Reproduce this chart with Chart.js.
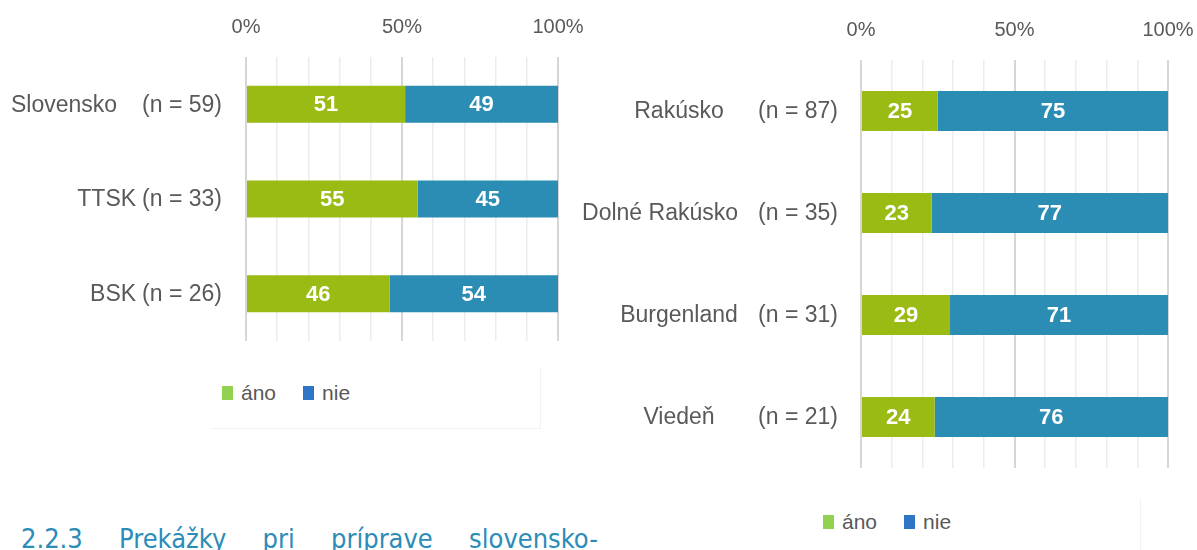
<!DOCTYPE html>
<html>
<head>
<meta charset="utf-8">
<script src="https://cdn.jsdelivr.net/npm/chart.js@4/dist/chart.umd.min.js"></script>
<style>
  html, body { margin: 0; padding: 0; background: #ffffff; }
  body { width: 1197px; height: 550px; overflow: hidden; position: relative; font-family: 'Liberation Sans', Arial, sans-serif; }
  canvas { position: absolute; top: 0; }
  #leftCanvas { left: 0px; }
  #rightCanvas { left: 540px; }
  .legend { position: absolute; display: flex; align-items: center; font-size: 21px; color: #595959; white-space: nowrap; }
  .sw { display: inline-block; width: 11px; height: 14px; margin-right: 8px; }
  .gap { display: inline-block; width: 27px; }
  #legendBoxLeft { position: absolute; left: 210px; top: 368px; width: 330px; height: 60px; border-right: 1px solid #f3f3f3; border-bottom: 1px solid #f3f3f3; }
  #faintRight { position: absolute; left: 1140px; top: 498px; width: 0; height: 52px; border-left: 1px solid #f3f3f3; }
  #heading { position: absolute; left: 21px; top: 523px; width: 577px; font-family: 'DejaVu Sans Condensed', 'DejaVu Sans', sans-serif; font-size: 27px; line-height: 32px; color: #2b8cb8; text-align: justify; text-align-last: justify; white-space: nowrap; }
</style>
</head>
<body>
<div id="legendBoxLeft"></div>
<div id="faintRight"></div>
<canvas id="leftCanvas" width="600" height="360"></canvas>
<canvas id="rightCanvas" width="657" height="480"></canvas>
<div class="legend" id="legendLeft" style="left:222px; top:381px;"></div>
<div class="legend" id="legendRight" style="left:823px; top:510px;"></div>
<div id="heading">2.2.3 Prekážky pri príprave slovensko-</div>
<script>
// ---- data ----
const seriesNames = ['áno', 'nie'];
const tickValues = [0, 50, 100];
const tickLabels = ['0%', '50%', '100%'];

const leftCategories = ['Slovensko', 'TTSK', 'BSK'];
const leftN = [59, 33, 26];
const leftAno = [51, 55, 46];
const leftNie = [49, 45, 54];

const rightCategories = ['Rakúsko', 'Dolné Rakúsko', 'Burgenland', 'Viedeň'];
const rightN = [87, 35, 31, 21];
const rightAno = [25, 23, 29, 24];
const rightNie = [75, 77, 71, 76];

// ---- styles ----
const barColors = ['#99bb14', '#2b8db3'];
const legendColors = ['#92d050', '#2e75c6'];
const textColor = '#595959';
const labelFont = "23px 'Liberation Sans', Arial, sans-serif";
const valueFont = "bold 22px 'Liberation Sans', Arial, sans-serif";

function nLabel(n) { return '(n = ' + n + ')'; }

const valueLabelsPlugin = {
  id: 'valueLabels',
  afterDatasetsDraw(chart) {
    const ctx = chart.ctx;
    ctx.save();
    ctx.font = valueFont;
    ctx.fillStyle = '#ffffff';
    ctx.textAlign = 'center';
    ctx.textBaseline = 'middle';
    chart.data.datasets.forEach((ds, di) => {
      const meta = chart.getDatasetMeta(di);
      meta.data.forEach((bar, i) => {
        const p = bar.getProps(['x', 'y', 'base'], true);
        ctx.fillText(String(ds.data[i]), (p.x + p.base) / 2, p.y + 1);
      });
    });
    ctx.restore();
  }
};

function categoryLabelsPlugin(cats, ns, place) {
  return {
    id: 'catLabels',
    afterDraw(chart) {
      const ctx = chart.ctx;
      const yScale = chart.scales.y;
      ctx.save();
      ctx.font = labelFont;
      ctx.fillStyle = textColor;
      ctx.textBaseline = 'middle';
      cats.forEach((c, i) => {
        const y = yScale.getPixelForValue(i) + 1;
        place(ctx, c, nLabel(ns[i]), i, y);
      });
      ctx.restore();
    }
  };
}

function makeChart(id, cats, ano, nie, pad, labelPlugin) {
  return new Chart(document.getElementById(id), {
    type: 'bar',
    data: {
      labels: cats,
      datasets: [
        { label: seriesNames[0], data: ano, backgroundColor: barColors[0], borderWidth: 0, barPercentage: 0.39, categoryPercentage: 1 },
        { label: seriesNames[1], data: nie, backgroundColor: barColors[1], borderWidth: 0, barPercentage: 0.39, categoryPercentage: 1 }
      ]
    },
    options: {
      indexAxis: 'y',
      responsive: false,
      animation: false,
      devicePixelRatio: 1,
      layout: { padding: pad },
      plugins: { legend: { display: false }, tooltip: { enabled: false } },
      scales: {
        x: {
          position: 'top',
          stacked: true,
          min: 0,
          max: 100,
          afterFit: (s) => { s.height = 45; s.paddingLeft = 0; s.paddingRight = 0; },
          border: { display: false },
          grid: {
            drawTicks: false,
            color: (c) => (c.tick && tickValues.includes(c.tick.value)) ? '#d6d6d6' : '#ececec',
            lineWidth: (c) => (c.tick && tickValues.includes(c.tick.value)) ? 2 : 1.5
          },
          ticks: {
            stepSize: 10,
            autoSkip: false,
            maxRotation: 0,
            padding: 18,
            color: textColor,
            font: { family: "'Liberation Sans', Arial, sans-serif", size: 20 },
            callback: (v) => { const k = tickValues.indexOf(v); return k >= 0 ? tickLabels[k] : ''; }
          }
        },
        y: { stacked: true, display: false }
      }
    },
    plugins: [valueLabelsPlugin, labelPlugin]
  });
}

// Left chart: "(n = X)" right aligned; name before it
const leftNameGap = [25, 6, 6];
makeChart('leftCanvas', leftCategories, leftAno, leftNie,
  { left: 246, right: 42, top: 12, bottom: 19 },
  categoryLabelsPlugin(leftCategories, leftN, (ctx, name, nl, i, y) => {
    const nRight = 222;
    const nW = ctx.measureText(nl).width;
    ctx.textAlign = 'right';
    ctx.fillText(nl, nRight, y);
    ctx.fillText(name, nRight - nW - leftNameGap[i], y);
  })
);

// Right chart: name centered in a column, "(n = X)" right aligned
makeChart('rightCanvas', rightCategories, rightAno, rightNie,
  { left: 321, right: 29, top: 15, bottom: 12 },
  categoryLabelsPlugin(rightCategories, rightN, (ctx, name, nl, i, y) => {
    ctx.textAlign = 'right';
    ctx.fillText(nl, 298, y);
    const w = ctx.measureText(name).width;
    const cx = Math.min(139, 198 - w / 2);
    ctx.textAlign = 'center';
    ctx.fillText(name, cx, y);
  })
);

// HTML legends
function buildLegend(id) {
  const el = document.getElementById(id);
  seriesNames.forEach((s, i) => {
    const sw = document.createElement('span');
    sw.className = 'sw';
    sw.style.background = legendColors[i];
    el.appendChild(sw);
    const t = document.createElement('span');
    t.textContent = s;
    el.appendChild(t);
    if (i < seriesNames.length - 1) {
      const g = document.createElement('span');
      g.className = 'gap';
      el.appendChild(g);
    }
  });
}
buildLegend('legendLeft');
buildLegend('legendRight');
</script>
</body>
</html>
